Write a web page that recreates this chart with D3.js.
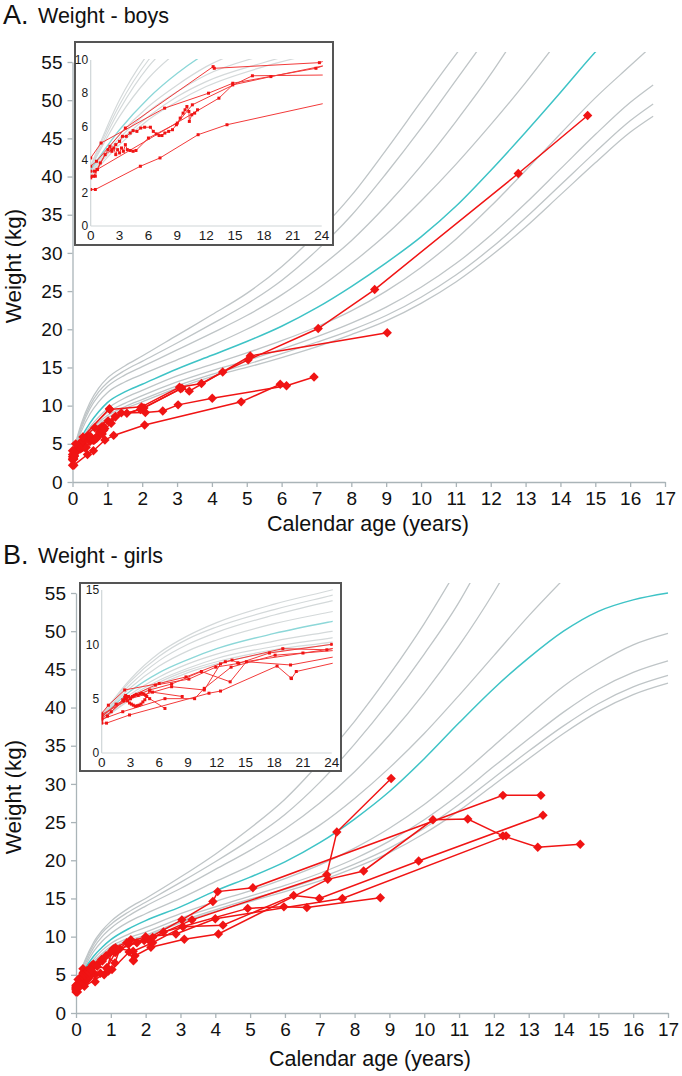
<!DOCTYPE html>
<html><head><meta charset="utf-8">
<script src="https://cdn.jsdelivr.net/npm/d3@7"></script>
<style>body{margin:0;background:#fff}svg{display:block}text{font-family:"Liberation Sans",Arial,sans-serif}</style>
</head><body><svg id="c" width="682" height="1076"></svg>
<script>
// ---------- DATA ----------
const xTicks = [0,1,2,3,4,5,6,7,8,9,10,11,12,13,14,15,16,17];
const yTicks = [0,5,10,15,20,25,30,35,40,45,50,55];
const insetXTicks = [0,3,6,9,12,15,18,21,24];
const boysInsetYTicks = [0,2,4,6,8,10];
const girlsInsetYTicks = [0,5,10,15];
const medianIndex = 4;

// reference curves [age (years), weight (kg)], top curve first
const boysCurves = [
  [[0,3.6],[0.25,7.6],[0.5,10.4],[0.75,12.3],[1,13.6],[1.5,15.2],[2,16.5],[3,19.2],[4,21.9],[5,24.7],[6,28.2],[7,32.5],[8,37.5],[9,43.5],[10,49.8],[11,56.0],[11.2,57.2]],
  [[0,3.6],[0.25,7.3],[0.5,10.0],[0.75,11.8],[1,13.0],[1.5,14.6],[2,15.8],[3,18.2],[4,20.7],[5,23.3],[6,26.4],[7,30.3],[8,34.9],[9,40.4],[10,46.3],[11,52.6],[11.7,57]],
  [[0,3.5],[0.25,7.0],[0.5,9.6],[0.75,11.3],[1,12.5],[1.5,14.0],[2,15.1],[3,17.3],[4,19.5],[5,21.8],[6,24.5],[7,27.8],[8,31.6],[9,36.2],[10,41.4],[11,47.2],[12,53.4],[12.5,56.8]],
  [[0,3.5],[0.25,6.6],[0.5,8.9],[0.75,10.5],[1,11.7],[1.5,13.1],[2,14.1],[3,16.0],[4,17.9],[5,20.0],[6,22.4],[7,25.2],[8,28.6],[9,32.4],[10,36.8],[11,41.6],[12,46.8],[13,52.3],[13.8,57]],
  [[0,3.4],[0.25,5.8],[0.5,7.7],[0.75,9.2],[1,10.4],[1.5,11.8],[2,12.8],[3,14.8],[4,16.6],[5,18.4],[6,20.4],[7,22.8],[8,25.6],[9,28.7],[10,32.1],[11,36.1],[12,40.8],[13,45.8],[14,51.0],[15,56.3],[15.1,56.8]],
  [[0,3.3],[0.25,5.5],[0.5,7.2],[0.75,8.5],[1,9.6],[1.5,11.0],[2,12.0],[3,13.9],[4,15.4],[5,16.9],[6,18.5],[7,20.3],[8,22.4],[9,25.0],[10,28.1],[11,31.8],[12,36.1],[13,40.8],[14,45.6],[15,50.3],[16,54.5],[16.6,57]],
  [[0,3.2],[0.25,5.3],[0.5,6.9],[0.75,8.1],[1,9.1],[1.5,10.3],[2,11.3],[3,13.1],[4,14.6],[5,15.9],[6,17.4],[7,19.0],[8,20.8],[9,22.9],[10,25.5],[11,28.6],[12,32.3],[13,36.5],[14,41.0],[15,45.5],[16,49.7],[16.66,52.0]],
  [[0,3.1],[0.25,5.1],[0.5,6.6],[0.75,7.8],[1,8.7],[1.5,9.85],[2,10.8],[3,12.6],[4,14.1],[5,15.4],[6,16.8],[7,18.3],[8,19.9],[9,21.8],[10,24.2],[11,27.1],[12,30.6],[13,34.6],[14,38.9],[15,43.2],[16,47.3],[16.66,49.5]],
  [[0,3.0],[0.25,4.9],[0.5,6.4],[0.75,7.5],[1,8.4],[1.5,9.6],[2,10.5],[3,12.3],[4,13.8],[5,15.0],[6,16.3],[7,17.7],[8,19.3],[9,21.1],[10,23.4],[11,26.2],[12,29.6],[13,33.4],[14,37.6],[15,41.8],[16,45.8],[16.66,47.9]]
];
const girlsCurves = [
  [[0,3.5],[0.25,6.8],[0.5,9.2],[0.75,10.8],[1,12.0],[1.5,13.7],[2,15.0],[3,17.8],[4,20.8],[5,24.2],[6,28.0],[7,32.8],[8,38.2],[9,44.3],[10,51.0],[10.8,57]],
  [[0,3.5],[0.25,6.6],[0.5,8.9],[0.75,10.5],[1,11.6],[1.5,13.2],[2,14.5],[3,17.1],[4,19.8],[5,22.7],[6,26.0],[7,30.2],[8,35.2],[9,40.8],[10,47.0],[11,53.8],[11.4,57]],
  [[0,3.4],[0.25,6.3],[0.5,8.5],[0.75,10.0],[1,11.1],[1.5,12.7],[2,14.0],[3,16.3],[4,18.8],[5,21.3],[6,24.1],[7,27.5],[8,31.6],[9,36.4],[10,41.9],[11,48.1],[12,55.1],[12.25,57]],
  [[0,3.4],[0.25,6.0],[0.5,8.0],[0.75,9.4],[1,10.4],[1.5,11.9],[2,13.0],[3,15.0],[4,17.2],[5,19.3],[6,21.8],[7,24.6],[8,28.1],[9,32.1],[10,36.6],[11,41.6],[12,46.8],[13,52.0],[14,56.8]],
  [[0,3.3],[0.25,5.7],[0.5,7.4],[0.75,8.6],[1,9.6],[1.5,11.0],[2,12.1],[3,13.9],[4,16.0],[5,17.8],[6,19.8],[7,22.3],[8,25.4],[9,29.0],[10,33.3],[11,38.0],[12,42.5],[13,46.5],[14,50.0],[15,52.6],[16,54.1],[17,55.0]],
  [[0,3.2],[0.25,5.4],[0.5,7.0],[0.75,8.2],[1,9.1],[1.5,10.3],[2,11.2],[3,13.0],[4,14.6],[5,16.0],[6,17.6],[7,19.4],[8,21.6],[9,24.2],[10,27.3],[11,31.0],[12,35.0],[13,39.0],[14,42.8],[15,45.8],[16,48.2],[17,49.7]],
  [[0,3.1],[0.25,5.2],[0.5,6.7],[0.75,7.8],[1,8.7],[1.5,9.8],[2,10.6],[3,12.4],[4,13.9],[5,15.3],[6,16.7],[7,18.3],[8,20.2],[9,22.5],[10,25.3],[11,28.6],[12,32.3],[13,35.9],[14,39.4],[15,42.4],[16,44.6],[17,46.1]],
  [[0,3.0],[0.25,5.0],[0.5,6.5],[0.75,7.6],[1,8.4],[1.5,9.5],[2,10.2],[3,12.0],[4,13.5],[5,14.9],[6,16.2],[7,17.7],[8,19.5],[9,21.6],[10,24.2],[11,27.3],[12,30.8],[13,34.3],[14,37.6],[15,40.5],[16,42.7],[17,44.2]],
  [[0,3.0],[0.25,4.9],[0.5,6.3],[0.75,7.4],[1,8.2],[1.5,9.3],[2,10.0],[3,11.8],[4,13.3],[5,14.6],[6,15.9],[7,17.3],[8,19.0],[9,21.0],[10,23.5],[11,26.5],[12,29.9],[13,33.3],[14,36.6],[15,39.5],[16,41.7],[17,43.2]]
];

// patient measurements [age (years), weight (kg)]
const boysPatients = [
  [[0,3.0],[0.025,3.0],[0.083,3.8],[0.15,4.6],[0.167,4.8],[0.183,4.5],[0.2,4.7],[0.217,4.3],[0.233,4.6],[0.25,4.4],[0.267,4.7],[0.283,4.5],[0.3,4.9],[0.317,4.6],[0.342,4.55],[0.367,4.5],[0.392,4.55],[0.5,5.3],[0.75,6.2],[0.88,7.3],[1.4,9.05],[2.09,9.1],[2.59,9.3],[3.03,10.1],[4.01,10.96],[6.14,12.6],[6.93,13.75]],
  [[0,3.3],[0.033,3.3],[0.058,3.4],[0.125,4.3],[0.183,4.6],[0.217,4.9],[0.25,5.1],[0.275,5.4],[0.308,5.4],[0.342,5.6],[0.367,5.75],[0.4,5.7],[0.433,5.9],[0.467,5.95],[0.517,5.95],[0.542,5.7],[0.567,5.55],[0.592,5.45],[0.617,5.45],[0.642,5.6],[0.675,5.7],[0.708,5.8],[0.742,6.1],[0.775,6.5],[0.8,6.8],[0.817,7.0],[0.833,7.2],[0.85,6.9],[0.854,6.3],[0.875,6.7],[0.9,6.8],[0.925,7.0]],
  [[0,4.1],[0.09,5.0],[0.64,7.1],[1.02,8.0],[1.23,8.6],[1.95,9.5],[3.14,12.3],[3.35,11.9],[5.1,16.5],[9.03,19.55]],
  [[0,3.6],[0.05,3.9],[0.3,5.9],[1.06,9.6],[1.07,9.5],[1.98,9.84],[3.07,12.4],[3.7,12.9],[4.31,14.4],[5.04,16.0],[7.05,20.1],[8.67,25.2],[12.79,40.4],[14.78,48.0]],
  [[0,2.9],[0.04,3.0],[0.055,3.4],[1.11,7.7],[1.23,8.5],[1.56,9.0],[2.05,9.7],[3.1,12.2]],
  [[0,2.2],[0.04,2.2],[0.43,3.6],[0.6,4.1],[0.93,5.5],[1.18,6.1],[2.07,7.46],[4.84,10.5],[5.96,12.8]]
];
const girlsPatients = [
  [[0,3.65],[0.058,4.4],[0.2,5.8],[0.5,6.4],[0.733,7.0],[1.075,8.4],[1.575,9.6],[1.958,9.5],[3.04,12.2],[3.93,14.6],[4.07,15.9],[5.08,16.4],[12.26,28.5],[13.35,28.5]],
  [[0,2.75],[0.042,2.75],[0.242,3.5],[0.933,5.5],[1.033,5.7],[1.525,8.0],[1.646,6.9],[1.65,6.85],[1.692,7.5],[2.15,8.6],[3.11,9.65],[4.09,10.35],[7.23,17.5],[8.26,18.6],[10.25,25.3],[11.25,25.4],[12.26,23.2],[13.26,21.7],[14.48,22.1]],
  [[0,3.3],[0.125,4.5],[0.417,5.8],[0.608,6.35],[0.867,7.5],[1.117,6.55],[1.258,8.4],[1.642,8.1],[2.2,9.2],[3.07,11.3],[4.22,11.5],[6.25,15.4],[6.99,15.0],[9.84,19.9],[13.41,25.9]],
  [[0,3.1],[0.183,3.8],[0.55,5.0],[0.808,5.0],[0.892,5.95],[1.125,7.9],[1.508,9.0],[1.75,9.2],[2.1,9.5],[2.51,10.6],[4.93,13.7],[5.97,13.9],[6.63,13.8],[8.74,15.1]],
  [[0,3.4],[0.208,5.0],[0.467,6.25],[0.758,6.8],[0.992,7.9],[1.192,8.25],[1.458,9.2],[2.0,10.0],[2.87,10.35],[4.0,12.35],[7.65,15.0],[12.35,23.2]],
  [[0,3.55],[0.25,5.0],[0.608,6.1],[0.892,5.8],[1.033,8.2],[1.133,8.55],[1.183,8.3],[2.2,9.9],[3.33,12.2],[7.2,18.1],[7.49,23.7],[9.05,30.7]],
  [[0,3.2],[0.083,3.8],[0.192,4.8],[0.208,5.0],[0.225,4.8],[0.242,4.6],[0.258,4.5],[0.275,4.4],[0.292,4.3],[0.308,4.35],[0.325,4.4],[0.342,4.5],[0.358,4.7],[0.375,4.9],[0.392,5.2],[0.417,5.0],[0.55,4.1]],
  [[0,3.0],[0.05,3.4],[0.183,4.9],[0.2,5.15],[0.208,5.3],[0.217,5.1],[0.233,5.2],[0.25,5.0],[0.267,5.2],[0.283,5.3],[0.3,5.4],[0.317,5.3],[0.333,5.45],[0.35,5.5],[0.367,5.4],[0.383,5.3],[0.417,5.7],[0.442,5.6],[0.7,5.2]]
];

// ---------- DRAWING ----------
const svg = d3.select('#c');
const defs = svg.append('defs');
const GRAY = '#bfc5c7', CYAN = '#3ec3c6', RED = '#f01414';
const IGRAY = '#d4d9da', ICYAN = '#8cd7d8', IRED = '#f23a3a';

function panel(o) {
  const g = svg.append('g');
  const x = d3.scaleLinear().domain([0, 17]).range(o.xr);
  const y = d3.scaleLinear().domain([0, 55]).range(o.yr);

  // titles
  const t = g.append('text').attr('x', 3).attr('y', o.titleY).attr('fill', '#111');
  t.append('tspan').attr('font-size', 27).text(o.letter);
  t.append('tspan').attr('x', 38).attr('font-size', 21.5).attr('dy', -1).text(o.title);

  // clip for curves
  const cid = 'clip' + o.id;
  defs.append('clipPath').attr('id', cid).append('rect')
    .attr('x', o.xr[0]).attr('y', y(56.3)).attr('width', o.xr[1] - o.xr[0] + 5).attr('height', y(0) - y(56.3));

  const line = d3.line().x(d => x(d[0])).y(d => y(d[1])).curve(d3.curveMonotoneX);
  const cg = g.append('g').attr('clip-path', `url(#${cid})`);
  o.curves.forEach((c, i) => {
    if (i === medianIndex) return;
    cg.append('path').attr('d', line(c)).attr('fill', 'none').attr('stroke', GRAY).attr('stroke-width', 1.3);
  });
  cg.append('path').attr('d', line(o.curves[medianIndex])).attr('fill', 'none').attr('stroke', CYAN).attr('stroke-width', 1.5);

  // axes
  const ax = g.append('g').attr('transform', `translate(0,${y(0)})`)
    .call(d3.axisBottom(x).tickValues(xTicks).tickSize(5).tickPadding(5).tickSizeOuter(0));
  const ay = g.append('g').attr('transform', `translate(${o.xr[0]},0)`)
    .call(d3.axisLeft(y).tickValues(yTicks).tickSize(5).tickPadding(5).tickSizeOuter(0));
  [ax, ay].forEach(a => {
    a.select('.domain').attr('stroke', '#aab4b8').attr('stroke-width', 1.3);
    a.selectAll('.tick line').attr('stroke', '#aab4b8').attr('stroke-width', 1.3);
    a.selectAll('.tick text').attr('font-size', 19).attr('fill', '#111')
      .attr('font-family', '"Liberation Sans", Arial, sans-serif');
  });
  g.append('text').attr('x', o.xTitleX).attr('y', o.xTitleY).attr('text-anchor', 'middle')
    .attr('font-size', 21.5).attr('fill', '#111').text('Calendar age (years)');
  g.append('text').attr('transform', `translate(21,${o.yTitleY}) rotate(-90)`).attr('text-anchor', 'middle')
    .attr('font-size', 22.5).attr('fill', '#111').text('Weight (kg)');

  // patients
  const pline = d3.line().x(d => x(d[0])).y(d => y(d[1]));
  const pg = g.append('g');
  o.patients.forEach(p => {
    pg.append('path').attr('d', pline(p)).attr('fill', 'none').attr('stroke', RED).attr('stroke-width', 1.5);
  });
  const sym = d3.symbol(d3.symbolSquare, 44)();
  o.patients.forEach(p => {
    pg.selectAll(null).data(p).join('path').attr('d', sym)
      .attr('transform', d => `translate(${x(d[0])},${y(d[1])}) rotate(45)`).attr('fill', RED);
  });

  // inset
  const b = o.box;
  g.append('rect').attr('x', b[0]).attr('y', b[1]).attr('width', b[2] - b[0]).attr('height', b[3] - b[1])
    .attr('fill', '#fff').attr('stroke', '#555').attr('stroke-width', 2);
  const ix = d3.scaleLinear().domain([0, 24]).range(o.ixr);
  const iy = d3.scaleLinear().domain([0, o.iyMax]).range(o.iyr);
  const icid = 'iclip' + o.id;
  defs.append('clipPath').attr('id', icid).append('rect')
    .attr('x', o.ixr[0]).attr('y', o.iyr[1] - 1).attr('width', o.ixr[1] - o.ixr[0] + 1).attr('height', o.iyr[0] - o.iyr[1] + 1);
  const iline = d3.line().x(d => ix(d[0] * 12)).y(d => iy(d[1])).curve(d3.curveMonotoneX);
  const ia = g.append('g');
  ia.append('line').attr('x1', o.ixr[0]).attr('x2', o.ixr[1]).attr('y1', o.iyr[0]).attr('y2', o.iyr[0]).attr('stroke', '#cfd5d7').attr('stroke-width', 1.2);
  ia.append('line').attr('x1', o.ixr[0]).attr('x2', o.ixr[0]).attr('y1', o.iyr[0]).attr('y2', o.iyr[1]).attr('stroke', '#cfd5d7').attr('stroke-width', 1.2);
  ia.selectAll(null).data(insetXTicks).join('text').attr('x', d => ix(d)).attr('y', o.iyr[0] + 14)
    .attr('text-anchor', 'middle').attr('font-size', 13.5).attr('fill', '#1a1a1a').text(d => d);
  ia.selectAll(null).data(o.iyTicks).join('text').attr('x', o.ixr[0] - 2.5).attr('y', d => iy(d) + 4.2)
    .attr('text-anchor', 'end').attr('font-size', 12).attr('fill', '#1a1a1a').text(d => d);
  const icg = g.append('g').attr('clip-path', `url(#${icid})`);
  o.curves.forEach((c, i) => {
    if (i === medianIndex) return;
    icg.append('path').attr('d', iline(c)).attr('fill', 'none').attr('stroke', IGRAY).attr('stroke-width', 1.2);
  });
  icg.append('path').attr('d', iline(o.curves[medianIndex])).attr('fill', 'none').attr('stroke', ICYAN).attr('stroke-width', 1.3);
  const ipline = d3.line().x(d => ix(d[0] * 12)).y(d => iy(d[1]));
  o.patients.forEach(p => {
    icg.append('path').attr('d', ipline(p)).attr('fill', 'none').attr('stroke', IRED).attr('stroke-width', 1);
  });
  o.patients.forEach(p => {
    icg.selectAll(null).data(p.filter(d => d[0] * 12 <= 24)).join('rect')
      .attr('x', d => ix(d[0] * 12) - 1.5).attr('y', d => iy(d[1]) - 1.5).attr('width', 3).attr('height', 3).attr('fill', RED);
  });
}

panel({id: 'A', letter: 'A.', title: 'Weight - boys', titleY: 24,
  xr: [72.5, 665], yr: [482, 62], xTitleX: 368, xTitleY: 531, yTitleY: 266,
  curves: boysCurves, patients: boysPatients,
  box: [75, 42, 333, 245], ixr: [90.7, 321.7], iyr: [226, 60], iyMax: 10, iyTicks: boysInsetYTicks});
panel({id: 'B', letter: 'B.', title: 'Weight - girls', titleY: 564,
  xr: [76, 668], yr: [1013, 593], xTitleX: 370, xTitleY: 1066, yTitleY: 797,
  curves: girlsCurves, patients: girlsPatients,
  box: [80, 583, 341, 771], ixr: [101.7, 331.7], iyr: [753, 590], iyMax: 15, iyTicks: girlsInsetYTicks});
</script>
</body></html>
